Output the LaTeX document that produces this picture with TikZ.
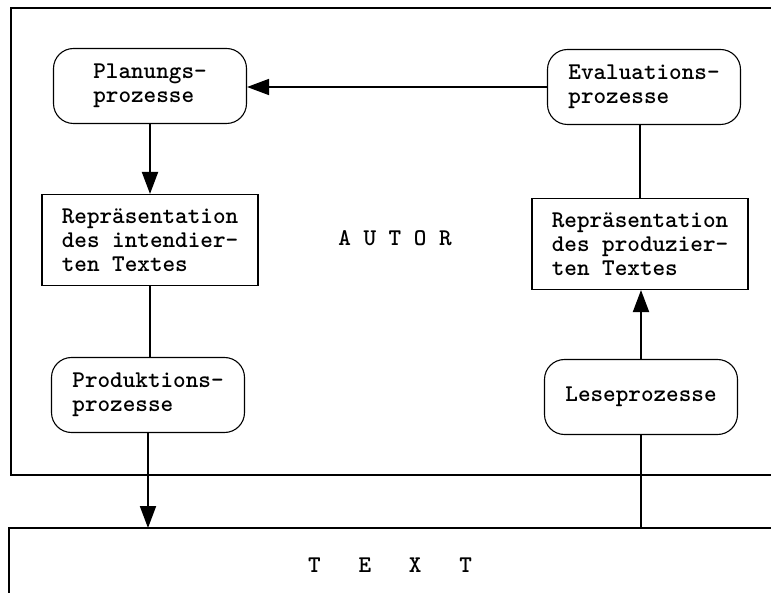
\documentclass[tikz,border=0pt]{standalone}
\usepackage{fontspec}
\usepackage{tikz}
\usetikzlibrary{positioning,arrows.meta}

\begin{document}
\begin{tikzpicture}[x=1pt,y=-1pt,
	% Define styles for the boxes and the connectors
	process/.style={draw, line width=1.1pt, rounded corners=20pt, minimum width=193pt, minimum height=75pt, align=left, font=\ttfamily\bfseries\fontsize{24}{24}\selectfont},
	repr/.style={draw, line width=1.1pt, minimum width=216pt, minimum height=91pt, align=left, font=\ttfamily\bfseries\fontsize{24}{24}\selectfont},
	label/.style={font=\ttfamily\bfseries\fontsize{24}{24}\selectfont},
	flow/.style={line width=2pt, -{Triangle[length=22pt,width=16pt]}},
	link/.style={line width=1.5pt}
	]
	\useasboundingbox (0,0) rectangle (771,593);
	
	% --- Outer boxes ---
	\draw[line width=1.2pt] (771,8) -- (11,8) -- (11,475) -- (771,475);
	\draw[line width=1.2pt] (771,528) -- (9,528) -- (9,593);
	\coordinate (texttop) at (147,528);
	
	% Define and place your nodes
	\node[process] (plan) at (150,86) {Planungs-\\prozesse};
	\node[process] (eval) at (644,87) {Evaluations-\\prozesse};
	\node[repr] (repint) at (150,240) {Repräsentation\\des intendier-\\ten Textes};
	\node[repr] (repprod) at (640,244) {Repräsentation\\des produzier-\\ten Textes};
	\node[process] (prod) at (148,395) {Produktions-\\prozesse};
	\node[process] (lese) at (641,397) {Leseprozesse};
	\node[label] (autor) at (395,238) {A U T O R};
	\node[label] (text) at (390,565) {T\ \ \ E\ \ \ X\ \ \ T};
	
	% --- Draw the edges ---
	\draw[flow] (plan.south) -- (plan.south |- repint.north);
	\draw[flow, line width=1.6pt] (eval.west) -- (eval.west -| plan.east);
	\draw[link] (eval.south -| repprod.north) -- (repprod.north);
	\draw[flow] (lese.north) -- (lese.north |- repprod.south);
	\draw[link] (repint.south) -- (repint.south |- prod.north);
	\draw[flow] (prod.south) -- (prod.south |- texttop);
	\draw[link] (lese.south) -- (lese.south |- texttop);
\end{tikzpicture}
\end{document}
